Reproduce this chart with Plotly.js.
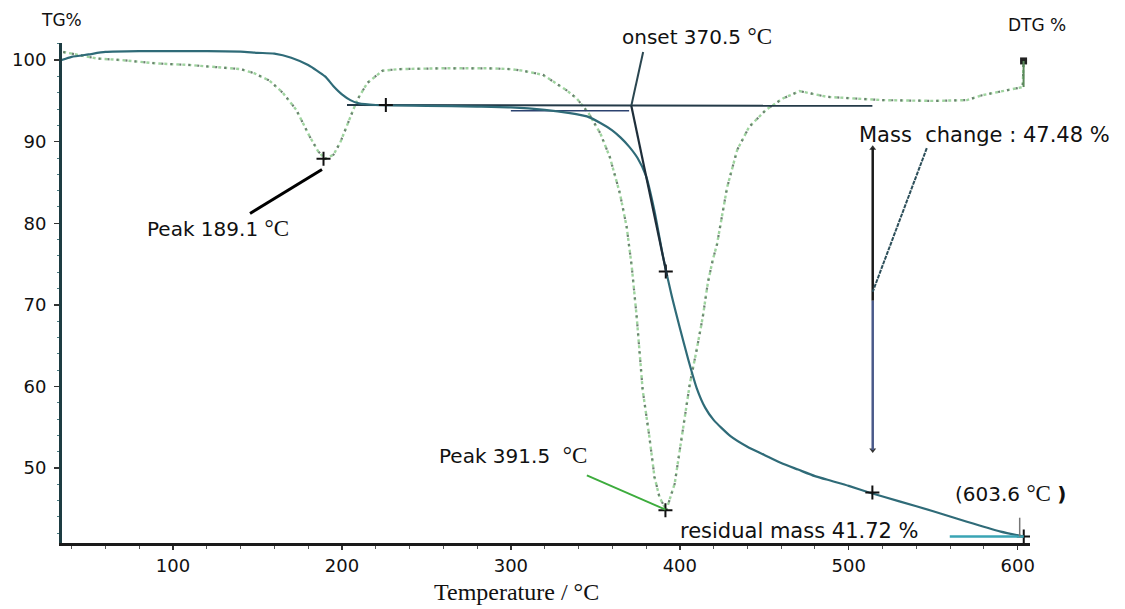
<!DOCTYPE html>
<html>
<head>
<meta charset="utf-8">
<script src="https://cdn.plot.ly/plotly-3.0.1.min.js"></script>
<style>
  html, body { margin: 0; padding: 0; background: #fff; }
  #chart { width: 1125px; height: 609px; }
</style>
</head>
<body>
<div id="chart"></div>
<script>
// ---- Data ----
// TG curve (mass %, left axis)
const tgTemp = [34, 40, 50, 60, 80, 100, 120, 140, 150, 160, 170, 180, 190, 195, 200, 205, 210, 220, 250, 280, 300, 320, 335, 345, 353, 360, 365, 370, 375, 380, 385, 390, 395, 400, 405, 410, 415, 420, 430, 440, 450, 460, 470, 480, 490, 500, 512, 530, 550, 570, 590, 603.6];
const tgMass = [100.0, 100.4, 100.7, 101.0, 101.1, 101.1, 101.1, 101.05, 100.9, 100.8, 100.3, 99.4, 98.0, 96.8, 95.8, 95.1, 94.7, 94.5, 94.4, 94.3, 94.2, 93.9, 93.5, 93.1, 92.3, 91.4, 90.5, 89.4, 88.0, 85.8, 81.5, 76.0, 71.3, 67.2, 63.3, 59.8, 57.4, 55.9, 53.9, 52.6, 51.6, 50.6, 49.8, 49.0, 48.4, 47.8, 47.0, 45.9, 44.7, 43.4, 42.2, 41.6];

// DTG curve (drawn on the same scale as in the reference)
const dtgTemp = [35, 45, 55, 70, 90, 110, 130, 140, 148, 157, 165, 173, 181, 186, 190, 195, 199, 205, 209, 215, 224, 234, 260, 286, 300, 307, 319, 333, 339, 346, 353, 358.6, 364.5, 368.6, 371.6, 374.5, 378, 382, 385, 388, 392, 397, 400, 403, 406, 410, 413.6, 416.6, 419.5, 422, 428, 434, 441, 451, 461, 471, 487, 520, 550, 570, 579, 603, 603.5];
const dtgSignal = [101.0, 100.6, 100.2, 100.0, 99.6, 99.4, 99.1, 98.9, 98.4, 97.5, 96.0, 93.9, 90.6, 88.8, 87.9, 88.4, 89.9, 93.0, 95.1, 97.2, 98.7, 98.9, 99.0, 99.0, 98.9, 98.7, 98.2, 96.3, 95.3, 93.5, 91.0, 88.1, 83.7, 79.5, 74.6, 68.5, 59.6, 53.8, 48.9, 46.4, 44.8, 48.1, 52.2, 56.2, 60.4, 64.5, 68.5, 72.7, 75.5, 77.4, 84.4, 89.0, 91.8, 93.9, 95.3, 96.2, 95.5, 95.1, 95.0, 95.1, 95.7, 96.7, 99.9];

// Baselines used for the onset construction
const baseTemp = [203, 514];
const baseMass = [94.5, 94.4];
const lowBaseTemp = [300, 370];
const lowBaseMass = [93.8, 93.8];

// Evaluation marks ("+")
const markTemp = [189.1, 226, 391.7, 391.5, 514, 603.6];
const markValue = [87.9, 94.5, 74.1, 44.8, 47.0, 41.6];

// Key values
const onsetT = 370.5, onsetMass = 94.4;
const massChangeT = 514.2, massTop = 89.2, massBottom = 52.2;
const residualMass = 41.6, endT = 603.6;

// Axis ticks
const xTicks = [100, 200, 300, 400, 500, 600];
const yTicks = [50, 60, 70, 80, 90, 100];

// ---- Layout helpers (pixel -> paper) ----
const L = 62, R = 1030, T = 43, B = 543;
const px = v => (v - L) / (R - L);
const py = v => (B - v) / (B - T);
const serif = "'Liberation Serif', 'Times New Roman', serif";
const degC = '<span style="font-family:\'Liberation Serif\', serif; font-size:23px">°C</span>';

const traces = [
  { x: dtgTemp, y: dtgSignal, mode: 'lines', name: 'DTG',
    line: { color: '#9fd49f', width: 2.4, dash: '3px,3px' }, hoverinfo: 'x+y' },
  { x: dtgTemp, y: dtgSignal, mode: 'lines', name: 'DTG dots',
    line: { color: '#6b7f70', width: 2.2, dash: '2px,7px' }, hoverinfo: 'skip' },
  { x: baseTemp, y: baseMass, mode: 'lines', name: 'baseline',
    line: { color: '#243a48', width: 2 } },
  { x: lowBaseTemp, y: lowBaseMass, mode: 'lines', name: 'baseline 2',
    line: { color: '#2c4270', width: 1.5 } },
  { x: tgTemp, y: tgMass, mode: 'lines', name: 'TG',
    line: { color: '#2f6b78', width: 2.2, shape: 'spline', smoothing: 0.6 } },
  { x: markTemp, y: markValue, mode: 'markers', name: 'marks',
    marker: { symbol: 'cross-thin', size: 10, line: { color: '#111', width: 2 } } },
  { x: [dtgTemp[dtgTemp.length - 1]], y: [dtgSignal[dtgSignal.length - 1]], mode: 'markers', name: 'end',
    marker: { symbol: 'square', size: 7, color: '#222' } },
  { x: [massChangeT, massChangeT], y: [massTop, massBottom], mode: 'markers', name: 'arrow ends',
    marker: { symbol: ['triangle-up', 'triangle-down'], size: 6, color: '#333' } }
];

const shapes = [
  // onset pointer and tangent
  { type: 'line', xref: 'x', yref: 'y', x0: 378.3, y0: 101.0, x1: onsetT + 0.8, y1: onsetMass,
    line: { color: '#2a4650', width: 2 } },
  { type: 'line', xref: 'x', yref: 'y', x0: onsetT + 0.8, y0: onsetMass, x1: 392.5, y1: 73.5,
    line: { color: '#1e2e3a', width: 2.2 } },
  // Peak 189.1 pointer
  { type: 'line', xref: 'x', yref: 'y', x0: 188.2, y0: 86.6, x1: 145.6, y1: 81.2,
    line: { color: '#000', width: 3 } },
  // Peak 391.5 pointer (green)
  { type: 'line', xref: 'x', yref: 'y', x0: 345, y0: 49.1, x1: 391.5, y1: 44.9,
    line: { color: '#3dac3d', width: 2 } },
  // Mass change vertical
  { type: 'line', xref: 'x', yref: 'y', x0: massChangeT, y0: massTop, x1: massChangeT, y1: 70.5,
    line: { color: '#1a1a1a', width: 2.5 } },
  { type: 'line', xref: 'x', yref: 'y', x0: massChangeT, y0: 70.5, x1: massChangeT, y1: massBottom,
    line: { color: '#4a5a8a', width: 2.5 } },
  // Mass change pointer
  { type: 'line', xref: 'x', yref: 'y', x0: 546.2, y0: massTop, x1: massChangeT, y1: 71.6,
    line: { color: '#2d4f5a', width: 2, dash: '4px,1px' } },
  // residual pointer
  { type: 'line', xref: 'x', yref: 'y', x0: 559.8, y0: residualMass, x1: endT, y1: residualMass,
    line: { color: '#3aa4b4', width: 2.5 } },
  { type: 'line', xref: 'x', yref: 'y', x0: 601.2, y0: 43.9, x1: 601.2, y1: residualMass,
    line: { color: '#777', width: 1.5 } },
  // DTG end stub
  { type: 'line', xref: 'x', yref: 'y', x0: 603.5, y0: 96.7, x1: 603.5, y1: 99.9,
    line: { color: '#5a8a5a', width: 2 } }
];

const txt = (text, x, y, size, extra) => Object.assign({
  text, xref: 'paper', yref: 'paper', x: px(x), y: py(y), showarrow: false,
  xanchor: 'center', yanchor: 'middle',
  font: { family: 'DejaVu Sans, Verdana, sans-serif', size, color: '#111' }
}, extra || {});

const annotations = [
  txt('TG%', 61, 20, 17),
  txt('DTG %', 1037, 25, 17),
  txt('onset 370.5 ' + degC, 697, 37, 20),
  txt('Peak 189.1 ' + degC, 218, 228, 20),
  txt('Peak 391.5  ' + degC, 513, 455, 20),
  txt('Mass  change : 47.48 %', 984, 135, 21),
  txt('residual mass 41.72 %', 799, 531, 21),
  txt('(603.6 ' + degC + ' <b>)</b>', 1010, 493, 20),
  txt('Temperature / °C', 516, 592, 24, { font: { family: serif, size: 24, color: '#111' } })
];

const layout = {
  width: 1125, height: 609,
  margin: { l: L, r: 1125 - R, t: T, b: 609 - B },
  paper_bgcolor: '#fff', plot_bgcolor: '#fff',
  showlegend: false,
  font: { family: 'DejaVu Sans, Verdana, sans-serif', color: '#111' },
  xaxis: {
    range: [34.3, 607.3], tickvals: xTicks, ticktext: xTicks.map(String),
    showgrid: false, zeroline: false, showline: true, linecolor: '#1a1a1a', linewidth: 3,
    ticks: 'outside', ticklen: 4, tickwidth: 1.5, tickcolor: '#333',
    minor: { dtick: 20, ticks: 'outside', ticklen: 3, tickcolor: '#555', tickwidth: 1 },
    tickfont: { family: 'DejaVu Sans, sans-serif', size: 18, color: '#111' }
  },
  yaxis: {
    range: [40.8, 102.1], tickvals: yTicks, ticktext: yTicks.map(String),
    showgrid: false, zeroline: false, showline: true, linecolor: '#1d3c42', linewidth: 3,
    ticks: 'outside', ticklen: 5, tickwidth: 1.5, tickcolor: '#333',
    minor: { dtick: 2, ticks: 'outside', ticklen: 2, tickcolor: '#4a7a80', tickwidth: 1 },
    tickfont: { family: 'DejaVu Sans, sans-serif', size: 18, color: '#111' }, ticklabelstandoff: 4
  },
  shapes, annotations
};

Plotly.newPlot('chart', traces, layout, { displayModeBar: false, staticPlot: true });
</script>
</body>
</html>
